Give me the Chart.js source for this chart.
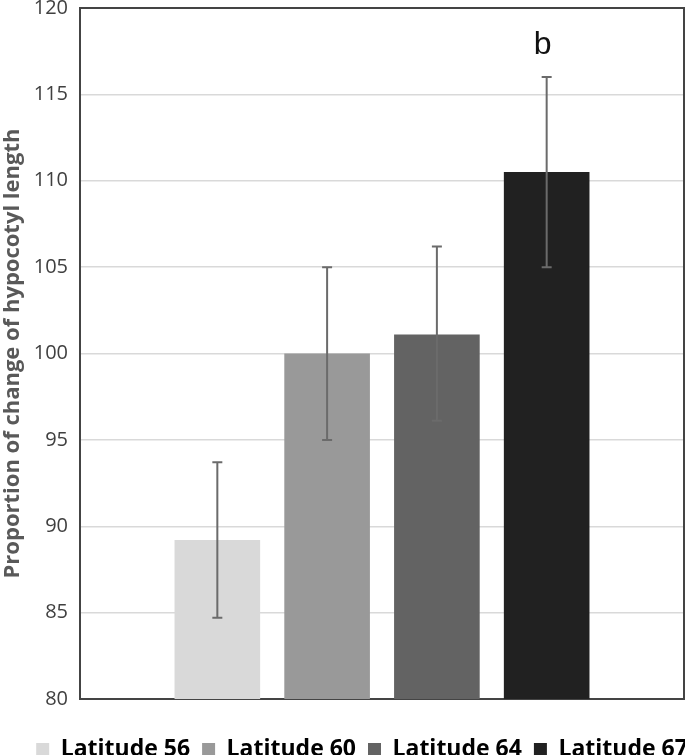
<!DOCTYPE html>
<html>
<head>
<meta charset="utf-8">
<script src="https://cdn.jsdelivr.net/npm/chart.js@4.4.1/dist/chart.umd.min.js"></script>
<style>
  html, body { margin: 0; padding: 0; background: #fff; }
  #wrap { width: 685px; height: 755px; }
</style>
</head>
<body>
<div id="wrap"><canvas id="myChart"></canvas></div>
<script>
// data
var categories = ['Latitude 56', 'Latitude 60', 'Latitude 64', 'Latitude 67'];
var means = [89.2, 100.0, 101.1, 110.5];
var errLow = [84.7, 95.0, 96.1, 105.0];
var errHigh = [93.7, 105.0, 106.2, 116.0];
var letters = ['', '', '', 'b'];
var yMin = 80, yMax = 120, yStep = 5;

var colors = ['#d9d9d9', '#999999', '#636363', '#212121'];

var datasets = categories.map(function (name, i) {
    return {
        label: name,
        data: [means[i]],
        backgroundColor: colors[i],
        borderWidth: 0,
        categoryPercentage: 0.727,
        barPercentage: 0.78
    };
});

// frame, error bars and letter
var extras = {
    id: 'extras',
    afterLayout: function (chart) {
        // legend sits right of centre in the original
        chart.legend.left += 20;
        chart.legend.right += 20;
    },
    beforeDatasetsDraw: function (chart) {
        var c = chart.ctx, a = chart.chartArea;
        c.save();
        c.strokeStyle = '#444';
        c.lineWidth = 2;
        c.strokeRect(a.left, a.top, a.right - a.left, a.bottom - a.top);
        c.restore();
    },
    afterDatasetsDraw: function (chart) {
        var c = chart.ctx, y = chart.scales.y;
        c.save();
        c.strokeStyle = '#6b6b6b';
        c.lineWidth = 2;
        categories.forEach(function (n, i) {
            var bar = chart.getDatasetMeta(i).data[0];
            var x = bar.x;
            var y1 = y.getPixelForValue(errLow[i]);
            var y2 = y.getPixelForValue(errHigh[i]);
            c.beginPath();
            c.moveTo(x, y1); c.lineTo(x, y2);
            c.moveTo(x - 5, y1); c.lineTo(x + 5, y1);
            c.moveTo(x - 5, y2); c.lineTo(x + 5, y2);
            c.stroke();
            if (letters[i]) {
                c.fillStyle = '#111';
                c.font = '32px "Liberation Sans", Arial, sans-serif';
                c.textAlign = 'center';
                c.textBaseline = 'alphabetic';
                c.fillText(letters[i], x - 4, y2 - 23);
            }
        });
        c.restore();
    }
};

var ctx = document.getElementById('myChart').getContext('2d');
var myChart = new Chart(ctx, {
    type: 'bar',
    data: {
        labels: [''],
        datasets: datasets
    },
    options: {
        responsive: true,
        maintainAspectRatio: false,
        animation: false,
        layout: { padding: { top: 8, right: 1, bottom: -16, left: 0 } },
        plugins: {
            legend: {
                position: 'bottom',
                labels: {
                    boxWidth: 13,
                    boxHeight: 13,
                    padding: 12,
                    color: '#000',
                    font: { family: '"Open Sans"', size: 23, weight: 'bold' }
                }
            },
            tooltip: { enabled: false }
        },
        scales: {
            x: {
                grid: { display: false },
                border: { display: false },
                ticks: { display: false },
                afterFit: function (s) { s.height = 27; }
            },
            y: {
                min: yMin,
                max: yMax,
                ticks: {
                    stepSize: yStep,
                    padding: 12,
                    color: '#404040',
                    font: { family: '"Open Sans"', size: 20 }
                },
                grid: { color: '#d9d9d9', lineWidth: 1.5, drawTicks: false },
                border: { display: false },
                title: {
                    display: true,
                    text: 'Proportion of change of hypocotyl length',
                    color: '#595959',
                    font: { family: '"Open Sans"', size: 22, weight: 'bold' },
                    padding: { top: 0, bottom: 0 }
                },
                afterFit: function (s) { s.width = 80; s.paddingTop = 0; s.paddingBottom = 0; }
            }
        }
    },
    plugins: [extras]
});
</script>
</body>
</html>
